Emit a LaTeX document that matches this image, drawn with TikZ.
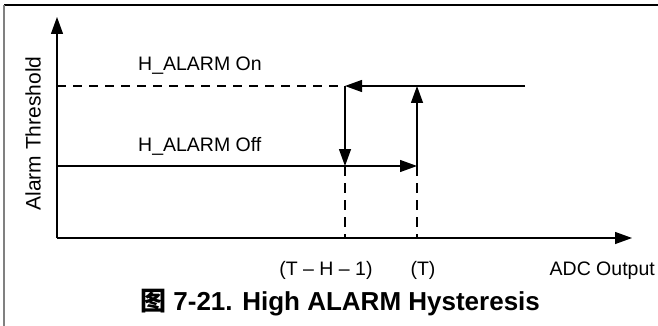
\documentclass[tikz,border=0pt]{standalone}
\usepackage{fontspec}
\setmainfont{Liberation Sans}
\newfontfamily\cjk{Noto Sans CJK SC}
\usetikzlibrary{arrows.meta}
\tikzset{
  ln/.style={line width=1.3pt, black},
  arr/.style={ln, -{Triangle[length=17pt,width=12pt]}},
  dsh/.style={ln, dash pattern=on 9pt off 7pt},
  vdsh/.style={ln, dash pattern=on 10pt off 7pt},
  lbl/.style={inner sep=0pt, font=\fontsize{19.5pt}{22pt}\selectfont},
}
\begin{document}
\begin{tikzpicture}[x=1pt,y=-1pt]
\useasboundingbox (0,0) rectangle (658,326);
% frame
\draw[line width=1.2pt, black] (4,5) -- (658,5);
\draw[line width=1.4pt, gray] (4,5) -- (4,326);
% axes
\coordinate (O) at (57,238);
\coordinate (Ytip) at (57,17);
\coordinate (Xtip) at (632,238);
\draw[arr] (O) -- (Ytip);
\draw[arr] (O) -- (Xtip);
% levels
\coordinate (hy0) at (57,86);
\coordinate (hy1) at (345,86);
\coordinate (hy2) at (417,86);
\coordinate (hyR) at (525,86);
\coordinate (ly0) at (57,166);
\coordinate (ly1) at (345,166);
\coordinate (ly2) at (417,166);
\coordinate (bx1) at (345,238);
\coordinate (bx2) at (417,238);
\draw[dsh] (hy0) -- (hy1);
\draw[arr] (hyR) -- (hy1);
\draw[arr] (hy1) -- (ly1);
\draw[arr] (ly0) -- (ly2);
\draw[arr] (ly2) -- (hy2);
\draw[vdsh] (ly1) -- (bx1);
\draw[vdsh] (ly2) -- (bx2);
% texts
\node[lbl, anchor=base west] (on) at (138,71) {H\_ALARM On};
\node[lbl, anchor=base west] (off) at (138,151) {H\_ALARM Off};
\node[lbl, rotate=90, font=\fontsize{21pt}{24pt}\selectfont] (yl) at (33,133.5) {Alarm Threshold};
\node[lbl, anchor=base] (t1) at (326,275) {(T -- H -- 1)};
\node[lbl, anchor=base] (t2) at (423,275) {(T)};
\node[lbl, anchor=base east] (adc) at (655,275) {ADC Output};
\node[inner sep=0pt, anchor=base west, font=\fontsize{26pt}{30pt}\selectfont\bfseries] (cap) at (140,310) {{\cjk 图} 7-21. High ALARM Hysteresis};
\end{tikzpicture}
\end{document}
